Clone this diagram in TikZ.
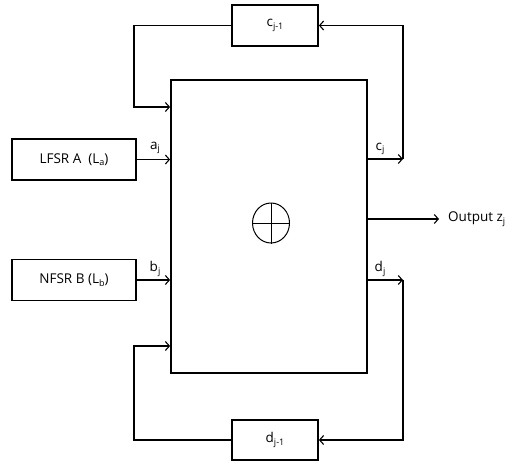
\documentclass[tikz,border=0pt]{standalone}
\usepackage{fontspec}
\setmainfont{Open Sans}
\usetikzlibrary{arrows.meta,calc,shapes.geometric}
\newcommand{\lowsub}[1]{\raisebox{-0.35ex}{\fontsize{9}{10}\selectfont #1}}
\tikzset{
  blk/.style={draw, line width=1.8pt, minimum width=#1, inner sep=0pt},
  conn/.style={line width=1.1pt, -{Straight Barb[length=4pt,width=9pt,line width=1.1pt]}},
  lbl/.style={inner sep=0pt},
}
\begin{document}
\begin{tikzpicture}[x=1pt,y=-1pt]
\useasboundingbox (0,0) rectangle (516,461);
\fontsize{13.5}{16}\selectfont
% boxes
\node[blk=86pt, minimum height=41pt] (cbox) at (275,25.5) {c\lowsub{j-1}};
\node[blk=86pt, minimum height=40pt] (dbox) at (275,440) {d\lowsub{j-1}};
\node[blk=196pt, minimum height=293pt] (main) at (269,226.5) {};
\node[blk=124pt, minimum height=41pt] (lfsr) at (74,159.5) {LFSR A\ \ (L\lowsub{a})};
\node[blk=124pt, minimum height=41pt] (nfsr) at (74,280) {NFSR B\ (L\lowsub{b})};
% xor symbol
\node[draw, ellipse, line width=1pt, minimum width=37pt, minimum height=40pt, inner sep=0pt] (xor) at (271,223) {};
\draw[line width=1pt] (xor.north) -- (xor.south);
\draw[line width=1pt] (xor.west) -- (xor.east);
% coordinates
\coordinate (cj) at (403,159);
\coordinate (dj) at (403,280);
\coordinate (tl) at (134,107);
\coordinate (bl) at (134,346);
% inputs
\draw[conn] (lfsr.east) -- (lfsr.east -| main.west);
\draw[conn] (nfsr.east) -- (nfsr.east -| main.west);
\node[lbl] (aj) at (155,148) {a\lowsub{j}};
\node[lbl] (bj) at (155,269) {b\lowsub{j}};
% c feedback
\draw[conn] (main.east |- cj) -- (cj);
\draw[conn] (cj) |- (cbox.east);
\draw[conn] (cbox.west) -| (tl) -- (tl -| main.west);
\node[lbl] (cjl) at (380,149) {c\lowsub{j}};
% d feedback
\draw[conn] (main.east |- dj) -- (dj);
\draw[conn] (dj) |- (dbox.east);
\draw[conn] (dbox.west) -| (bl) -- (bl -| main.west);
\node[lbl] (djl) at (380,269) {d\lowsub{j}};
% output
\node[lbl, anchor=west] (out) at (448,219) {Output z\lowsub{j}};
\draw[conn] (main.east |- out.west) -- ($(out.west)+(-9,0)$);
\end{tikzpicture}
\end{document}
